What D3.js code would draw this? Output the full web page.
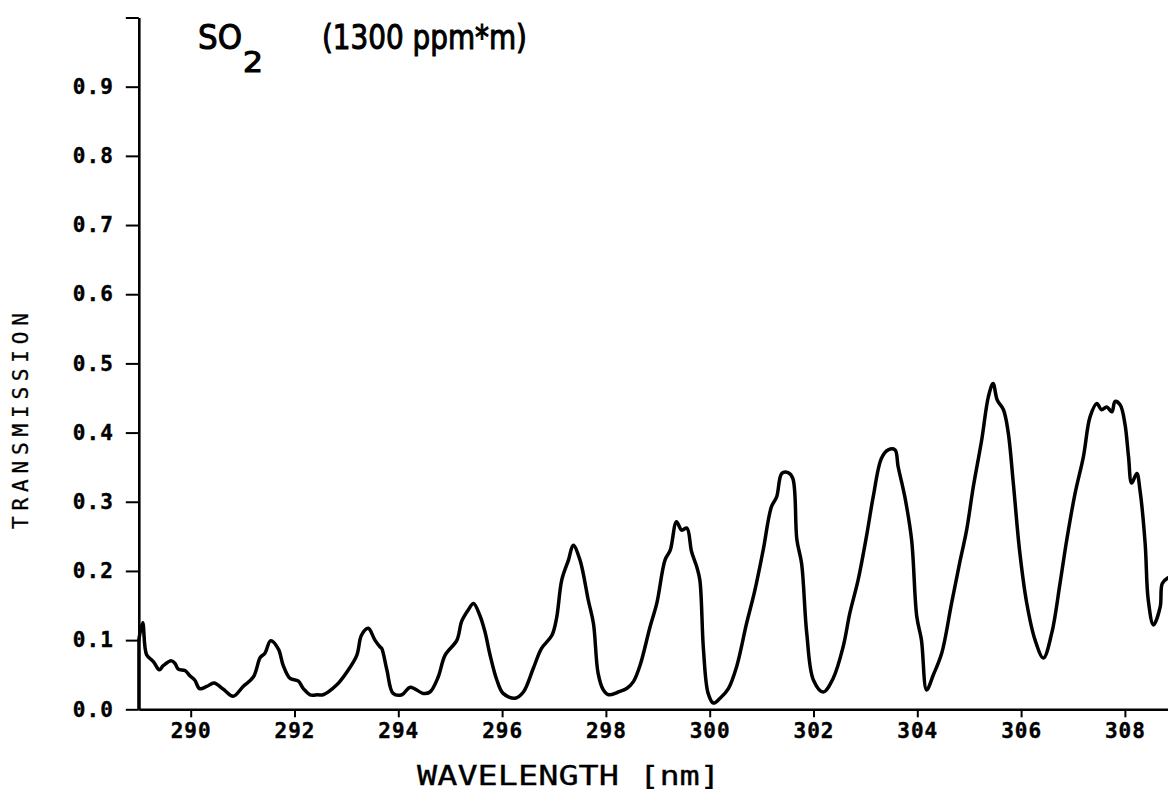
<!DOCTYPE html>
<html>
<head>
<meta charset="utf-8">
<script src="https://cdn.jsdelivr.net/npm/d3@7"></script>
<style>
  html, body { margin: 0; padding: 0; background: #fff; overflow: hidden; }
  svg { display: block; }
</style>
</head>
<body>
<svg id="chart" width="1168" height="790"></svg>
<script>
// ---- data ----
const wavelength = [
  289.00, 289.075, 289.15, 289.28, 289.395, 289.47, 289.63, 289.70, 289.76, 289.89,
  289.99, 290.08, 290.17, 290.31, 290.45, 290.63, 290.82, 291.01, 291.21, 291.34,
  291.43, 291.54, 291.69, 291.78, 291.91, 292.07, 292.17, 292.30, 292.45, 292.55,
  292.81, 293.01, 293.20, 293.29, 293.42, 293.55, 293.65, 293.68, 293.78, 293.90,
  294.07, 294.23, 294.48, 294.61, 294.77, 294.90, 295.13, 295.22, 295.35, 295.45,
  295.57, 295.67, 295.76, 295.90, 296.02, 296.25, 296.41, 296.60, 296.76, 296.96,
  297.05, 297.15, 297.28, 297.37, 297.50, 297.66, 297.76, 297.85, 297.95, 298.05,
  298.24, 298.40, 298.53, 298.66, 298.85, 298.98, 299.14, 299.24, 299.36, 299.46,
  299.56, 299.65, 299.75, 299.81, 299.88, 299.97, 300.07, 300.20, 300.36, 300.52,
  300.71, 300.87, 301.03, 301.19, 301.29, 301.39, 301.51, 301.60, 301.68, 301.77,
  301.87, 302.00, 302.19, 302.38, 302.57, 302.70, 302.86, 303.03, 303.15, 303.31,
  303.44, 303.57, 303.63, 303.76, 303.89, 303.99, 304.08, 304.18, 304.31, 304.47,
  304.66, 304.82, 304.95, 305.08, 305.24, 305.37, 305.46, 305.54, 305.66, 305.75,
  305.85, 305.97, 306.11, 306.27, 306.43, 306.59, 306.75, 306.88, 307.04, 307.20,
  307.33, 307.46, 307.55, 307.65, 307.75, 307.81, 307.91, 308.00, 308.07, 308.13,
  308.23, 308.29, 308.39, 308.45, 308.55, 308.68, 308.72, 308.83
];
const transmission = [
  0.100, 0.125, 0.079, 0.069, 0.057, 0.063, 0.070, 0.066, 0.058, 0.056,
  0.048, 0.042, 0.030, 0.033, 0.038, 0.029, 0.019, 0.033, 0.047, 0.075,
  0.081, 0.099, 0.087, 0.064, 0.045, 0.041, 0.030, 0.021, 0.021, 0.021,
  0.035, 0.054, 0.078, 0.107, 0.117, 0.100, 0.090, 0.088, 0.057, 0.023,
  0.021, 0.032, 0.023, 0.025, 0.047, 0.078, 0.100, 0.127, 0.144, 0.153,
  0.136, 0.112, 0.081, 0.042, 0.023, 0.016, 0.025, 0.059, 0.088, 0.107,
  0.132, 0.187, 0.216, 0.237, 0.216, 0.158, 0.124, 0.052, 0.028, 0.021,
  0.025, 0.030, 0.040, 0.064, 0.119, 0.153, 0.216, 0.230, 0.271, 0.259,
  0.262, 0.228, 0.206, 0.187, 0.086, 0.023, 0.009, 0.016, 0.030, 0.062,
  0.124, 0.172, 0.230, 0.293, 0.307, 0.341, 0.342, 0.334, 0.245, 0.211,
  0.110, 0.042, 0.025, 0.045, 0.090, 0.139, 0.187, 0.254, 0.307, 0.363,
  0.375, 0.375, 0.351, 0.307, 0.245, 0.134, 0.100, 0.028, 0.050, 0.081,
  0.153, 0.213, 0.259, 0.322, 0.389, 0.452, 0.471, 0.447, 0.433, 0.401,
  0.327, 0.230, 0.153, 0.100, 0.074, 0.110, 0.182, 0.245, 0.312, 0.365,
  0.423, 0.442, 0.433, 0.437, 0.430, 0.445, 0.440, 0.413, 0.365, 0.327,
  0.341, 0.317, 0.240, 0.158, 0.122, 0.148, 0.182, 0.190
];
const xTicks = [290, 292, 294, 296, 298, 300, 302, 304, 306, 308];
const yTicks = [0.0, 0.1, 0.2, 0.3, 0.4, 0.5, 0.6, 0.7, 0.8, 0.9, 1.0];
const yLabelled = [0.0, 0.1, 0.2, 0.3, 0.4, 0.5, 0.6, 0.7, 0.8, 0.9];
const titleMain = "SO";
const titleSub = "2";
const titleRest = "(1300 ppm*m)";
const xTitle = "WAVELENGTH [nm]";
const yTitle = "TRANSMISSION";

// ---- drawing ----
const svg = d3.select("#chart");
const x = d3.scaleLinear().domain([289, 309]).range([138.8, 138.8 + 20 * 51.9]);
const y = d3.scaleLinear().domain([0, 1]).range([709.3, 17.5]);
const tickFont = "'DejaVu Sans Mono', monospace";

// x axis
const xAxis = svg.append("g")
  .attr("transform", `translate(0,${y(0)})`)
  .call(d3.axisBottom(x).tickValues(xTicks).tickSize(8).tickSizeOuter(0).tickPadding(6)
    .tickFormat(d3.format("d")));
xAxis.select(".domain").attr("stroke", "#000").attr("stroke-width", 2.4);
xAxis.selectAll(".tick line").attr("stroke", "#000").attr("stroke-width", 2);
xAxis.selectAll(".tick text")
  .attr("font-family", tickFont).attr("font-weight", "bold")
  .attr("font-size", 21).attr("letter-spacing", "1px").attr("fill", "#000")
  .attr("stroke", "#000").attr("stroke-width", 0.4);

// y axis
const yAxis = svg.append("g")
  .attr("transform", `translate(${x(289)},0)`)
  .call(d3.axisLeft(y).tickValues(yTicks).tickSize(13).tickSizeOuter(0).tickPadding(12)
    .tickFormat(d => yLabelled.includes(d) ? d3.format(".1f")(d) : ""));
yAxis.select(".domain").attr("stroke", "#000").attr("stroke-width", 2.6);
yAxis.selectAll(".tick line").attr("stroke", "#000").attr("stroke-width", 2);
yAxis.selectAll(".tick text")
  .attr("font-family", tickFont).attr("font-weight", "bold")
  .attr("font-size", 21).attr("letter-spacing", "1px").attr("fill", "#000")
  .attr("stroke", "#000").attr("stroke-width", 0.4);

// curve
const pts = wavelength.map((w, i) => [w, transmission[i]]);
svg.append("path")
  .datum(pts)
  .attr("fill", "none")
  .attr("stroke", "#000")
  .attr("stroke-width", 3.5)
  .attr("stroke-linejoin", "round")
  .attr("stroke-linecap", "round")
  .attr("d", d3.line().curve(d3.curveCatmullRom.alpha(0.5)).x(d => x(d[0])).y(d => y(d[1])));
// vertical start of the trace on the axis
svg.append("line")
  .attr("x1", x(289)).attr("x2", x(289))
  .attr("y1", y(0)).attr("y2", y(transmission[0]))
  .attr("stroke", "#000").attr("stroke-width", 3.2);

// title
const tFont = "'DejaVu Sans', sans-serif";
const tStroke = 1.1;
svg.append("text").attr("x", 198).attr("y", 49)
  .attr("font-family", tFont).attr("font-size", 34)
  .attr("stroke", "#000").attr("stroke-width", tStroke)
  .attr("textLength", 44).attr("lengthAdjust", "spacingAndGlyphs")
  .text(titleMain);
svg.append("text").attr("x", 243).attr("y", 72)
  .attr("font-family", tFont).attr("font-size", 28)
  .attr("stroke", "#000").attr("stroke-width", tStroke)
  .attr("textLength", 20).attr("lengthAdjust", "spacingAndGlyphs")
  .text(titleSub);
svg.append("text").attr("x", 322).attr("y", 49)
  .attr("font-family", tFont).attr("font-size", 34)
  .attr("stroke", "#000").attr("stroke-width", tStroke)
  .attr("textLength", 205).attr("lengthAdjust", "spacingAndGlyphs")
  .text(titleRest);

// axis titles
svg.append("text").attr("x", 417).attr("y", 785)
  .attr("font-family", tickFont).attr("font-size", 27)
  .attr("stroke", "#000").attr("stroke-width", 0.3)
  .attr("textLength", 303).attr("lengthAdjust", "spacingAndGlyphs")
  .text(xTitle);
svg.append("text")
  .attr("transform", "translate(28,421) rotate(-90)")
  .attr("text-anchor", "middle")
  .attr("font-family", tickFont).attr("font-size", 21)
  .attr("stroke", "#000").attr("stroke-width", 0.3)
  .attr("textLength", 216).attr("lengthAdjust", "spacing")
  .text(yTitle);
</script>
</body>
</html>
